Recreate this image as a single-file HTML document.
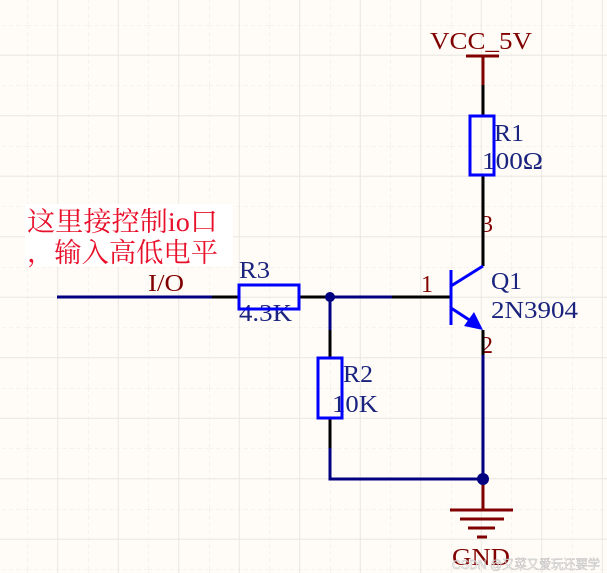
<!DOCTYPE html>
<html><head><meta charset="utf-8"><style>
html,body{margin:0;padding:0;background:#fffcf7;}
svg{display:block}
</style></head><body>
<svg width="607" height="573" xmlns="http://www.w3.org/2000/svg">
<defs>
<pattern id="gd" x="27.5" y="25" width="60.5" height="60.5" patternUnits="userSpaceOnUse">
<line x1="0" y1="0" x2="0" y2="60.5" stroke="#ece9e2" stroke-width="1" stroke-dasharray="4,3"/>
<line x1="0" y1="0" x2="60.5" y2="0" stroke="#ece9e2" stroke-width="1" stroke-dasharray="4,3"/>
<line x1="30.25" y1="0" x2="30.25" y2="60.5" stroke="#e8e6e0" stroke-width="1"/>
<line x1="0" y1="30.25" x2="60.5" y2="30.25" stroke="#e8e6e0" stroke-width="1"/>
</pattern>
</defs>
<rect width="607" height="573" fill="#fffcf7"/>
<rect width="607" height="573" fill="url(#gd)"/>

<!-- annotation -->
<rect x="25" y="204" width="208" height="63" fill="#ffffff"/>
<text x="27" y="231" textLength="191" lengthAdjust="spacingAndGlyphs" font-family="'Liberation Serif','Noto Serif CJK SC',serif" font-size="27" fill="#e8102a">这里接控制io口</text>
<text x="27" y="262" textLength="191" lengthAdjust="spacingAndGlyphs" font-family="'Liberation Serif','Noto Serif CJK SC',serif" font-size="27" fill="#e8102a">，输入高低电平</text>

<g font-family="'Liberation Serif',serif" font-size="24">
<text x="148" y="291" textLength="36" lengthAdjust="spacingAndGlyphs" fill="#800000">I/O</text>
<text x="430" y="49" textLength="102" lengthAdjust="spacingAndGlyphs" fill="#800000">VCC_5V</text>
<text x="452" y="565" textLength="58" lengthAdjust="spacingAndGlyphs" fill="#800000">GND</text>
<text x="421" y="292" fill="#800000">1</text>
<text x="481" y="232" fill="#800000">3</text>
<text x="481" y="353" fill="#800000">2</text>
<text x="239" y="278" textLength="31" lengthAdjust="spacingAndGlyphs" fill="#1a237e">R3</text>
<text x="239" y="321" textLength="53" lengthAdjust="spacingAndGlyphs" fill="#1a237e">4.3K</text>
<text x="343" y="382" textLength="30" lengthAdjust="spacingAndGlyphs" fill="#1a237e">R2</text>
<text x="332" y="412" textLength="46" lengthAdjust="spacingAndGlyphs" fill="#1a237e">10K</text>
<text x="494" y="141" textLength="30" lengthAdjust="spacingAndGlyphs" fill="#1a237e">R1</text>
<text x="482" y="169" textLength="61" lengthAdjust="spacingAndGlyphs" fill="#1a237e">100Ω</text>
<text x="491" y="289" textLength="31" lengthAdjust="spacingAndGlyphs" fill="#1a237e">Q1</text>
<text x="491" y="318" textLength="87" lengthAdjust="spacingAndGlyphs" fill="#1a237e">2N3904</text>
</g>
<text x="452" y="569" textLength="148" lengthAdjust="spacingAndGlyphs" font-family="'Liberation Sans','Noto Sans CJK SC',sans-serif" font-size="13" fill="#ffffff" fill-opacity="0.7" stroke="#b0b0b0" stroke-width="0.4">CSDN @又菜又爱玩还要学</text>

<!-- wires -->
<g stroke-width="3" fill="none">
<line x1="57" y1="297" x2="212" y2="297" stroke="#000080"/>
<line x1="212" y1="297" x2="238" y2="297" stroke="#000"/>
<line x1="299" y1="297" x2="330" y2="297" stroke="#000"/>
<line x1="330" y1="297" x2="392" y2="297" stroke="#000080"/>
<line x1="392" y1="297" x2="451" y2="297" stroke="#000"/>
<line x1="330" y1="297" x2="330" y2="330" stroke="#000080"/>
<line x1="330" y1="330" x2="330" y2="357" stroke="#000"/>
<line x1="330" y1="418" x2="330" y2="448" stroke="#000"/>
<polyline points="330,448 330,479 483,479 483,330" stroke="#000080"/>
<line x1="483" y1="330" x2="483" y2="355" stroke="#000"/>
<line x1="483" y1="55" x2="483" y2="85" stroke="#800000"/>
<line x1="483" y1="85" x2="483" y2="116" stroke="#000"/>
<line x1="483" y1="175" x2="483" y2="266" stroke="#000"/>
<line x1="466" y1="56" x2="499" y2="56" stroke="#800000"/>
<line x1="483" y1="479" x2="483" y2="510" stroke="#800000"/>
<line x1="450" y1="510" x2="513" y2="510" stroke="#800000"/>
<line x1="460" y1="519" x2="504" y2="519" stroke="#800000"/>
<line x1="468" y1="528" x2="495" y2="528" stroke="#800000"/>
<line x1="477" y1="537" x2="487" y2="537" stroke="#800000"/>
</g>
<circle cx="330" cy="297" r="5" fill="#000080"/>
<circle cx="483" cy="479" r="6" fill="#000080"/>

<!-- resistors -->
<g stroke="#0000ff" stroke-width="3" fill="none">
<rect x="239" y="285" width="60" height="24"/>
<rect x="318" y="358" width="24" height="60"/>
<rect x="470" y="116" width="24" height="59"/>
</g>

<!-- transistor -->
<g stroke="#0000ff" stroke-width="3" fill="none">
<line x1="451" y1="270" x2="451" y2="325"/>
<line x1="451" y1="286" x2="483" y2="266"/>
<line x1="451" y1="308" x2="474" y2="323"/>
</g>
<polygon points="483,330 464,326 474,312" fill="#0000ff"/>
</svg>
</body></html>
